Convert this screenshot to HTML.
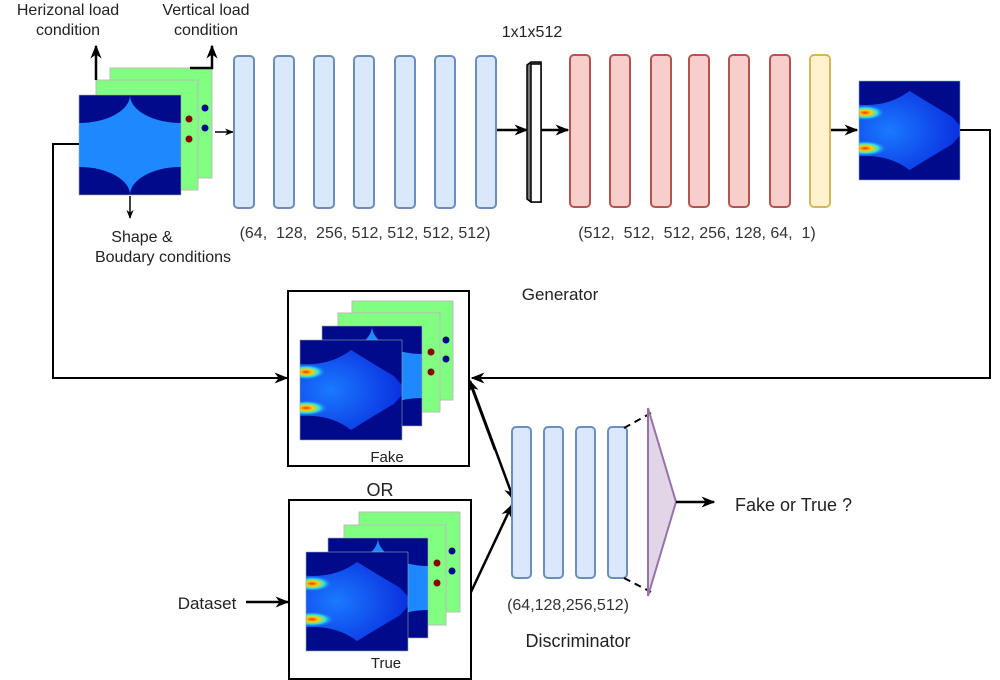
<!DOCTYPE html>
<html><head><meta charset="utf-8"><style>
html,body{margin:0;padding:0;background:#fff;}
svg{display:block;font-family:"Liberation Sans",Arial,sans-serif;}
</style></head><body>
<svg width="1000" height="680" viewBox="0 0 1000 680" xmlns="http://www.w3.org/2000/svg">
<defs>
<marker id="ah" viewBox="0 0 10 10" refX="9" refY="5" markerWidth="9" markerHeight="9" orient="auto-start-reverse" markerUnits="userSpaceOnUse">
<path d="M0,1 L10,5 L0,9 L3,5 z" fill="#000"/></marker>
<marker id="ahs" viewBox="0 0 10 10" refX="9" refY="5" markerWidth="14" markerHeight="14" orient="auto" markerUnits="userSpaceOnUse">
<path d="M0,1 L10,5 L0,9 L3,5 z" fill="#000"/></marker>
<radialGradient id="hot1" cx="0.5" cy="0.5" r="0.5"><stop offset="0" stop-color="#ff3000"/><stop offset="0.3" stop-color="#ffd000"/><stop offset="0.6" stop-color="#30e0e0"/><stop offset="1" stop-color="#1060ff" stop-opacity="0"/></radialGradient>
<radialGradient id="body" cx="0.3" cy="0.5" r="0.7"><stop offset="0" stop-color="#1a7aff"/><stop offset="1" stop-color="#0a30e0"/></radialGradient>
<clipPath id="cp"><rect x="0" y="0" width="100" height="100"/></clipPath>
<g id="heat">
<rect x="0" y="0" width="100" height="100" fill="#000a8a"/>
<g clip-path="url(#cp)">
<path d="M0,24 Q30,26 50,10 Q72,24 92,36 L100,45 L100,55 L92,64 Q72,76 50,90 Q30,74 0,76 z" fill="url(#body)"/>
<ellipse cx="6" cy="32" rx="20" ry="8" fill="url(#hot1)"/>
<ellipse cx="6" cy="68" rx="22" ry="8" fill="url(#hot1)"/>
</g>
<rect x="0" y="0" width="100" height="100" fill="none" stroke="#8aa" stroke-width="0.6"/>
</g>
<g id="shape">
<rect x="0" y="0" width="100" height="100" fill="#1e88ff"/>
<g clip-path="url(#cp)">
<ellipse cx="0" cy="0" rx="50" ry="28" fill="#000a8a"/>
<ellipse cx="100" cy="0" rx="50" ry="28" fill="#000a8a"/>
<ellipse cx="0" cy="100" rx="50" ry="28" fill="#000a8a"/>
<ellipse cx="100" cy="100" rx="50" ry="28" fill="#000a8a"/>
</g>
<rect x="0" y="0" width="100" height="100" fill="none" stroke="#aaa" stroke-width="0.6"/>
</g>
</defs>

<!-- top input stack -->
<rect x="110" y="68" width="102" height="110" fill="#80ff80" stroke="#bbb"/>
<rect x="96" y="80" width="102" height="110" fill="#80ff80" stroke="#bbb"/>
<circle cx="205" cy="108" r="3.5" fill="#000a8a"/><circle cx="205" cy="128" r="3.5" fill="#000a8a"/>
<circle cx="189" cy="119" r="3.5" fill="#8b0000"/><circle cx="189" cy="139" r="3.5" fill="#8b0000"/>
<use href="#shape" transform="translate(79,95) scale(1.02,1)"/>
<path d="M96,80 V46" stroke="#000" stroke-width="2.5" fill="none" marker-end="url(#ahs)"/>
<path d="M190,68 H212 V46" stroke="#000" stroke-width="2.5" fill="none" marker-end="url(#ahs)"/>
<path d="M130,196 V218" stroke="#000" stroke-width="1.5" fill="none" marker-end="url(#ah)"/>
<path d="M215,132 H233" stroke="#000" stroke-width="1.5" fill="none" marker-end="url(#ah)"/>
<text x="68" y="15" font-size="16" text-anchor="middle" fill="#222">Herizonal load</text>
<text x="68" y="35" font-size="16" text-anchor="middle" fill="#222">condition</text>
<text x="206" y="15" font-size="16" text-anchor="middle" fill="#222">Vertical load</text>
<text x="206" y="35" font-size="16" text-anchor="middle" fill="#222">condition</text>
<text x="142" y="242" font-size="16" text-anchor="middle" fill="#222">Shape &amp;</text>
<text x="163" y="262" font-size="16" text-anchor="middle" fill="#222">Boudary conditions</text>

<!-- encoder -->
<g fill="#dae8fc" stroke="#6c8ebf" stroke-width="2">
<rect x="234" y="56" width="20" height="152" rx="4"/>
<rect x="274" y="56" width="20" height="152" rx="4"/>
<rect x="314" y="56" width="20" height="152" rx="4"/>
<rect x="354" y="56" width="20" height="152" rx="4"/>
<rect x="395" y="56" width="20" height="152" rx="4"/>
<rect x="435" y="56" width="20" height="152" rx="4"/>
<rect x="476" y="56" width="20" height="152" rx="4"/>
</g>
<text x="365" y="238" font-size="16" text-anchor="middle" fill="#333" xml:space="preserve">(64,  128,  256, 512, 512, 512, 512)</text>
<path d="M497,130 H527" stroke="#000" stroke-width="2.5" marker-end="url(#ahs)"/>
<!-- bottleneck -->
<path d="M527,65 L531,62 L541,62 L541,202 L531,202 L527,199 z" fill="#777" stroke="#000" stroke-width="1.5"/>
<rect x="531" y="64" width="10" height="138" fill="#fff" stroke="#000" stroke-width="1.5"/>
<text x="532" y="37" font-size="16" text-anchor="middle" fill="#222">1x1x512</text>
<path d="M541,130 H568" stroke="#000" stroke-width="2.5" marker-end="url(#ahs)"/>
<!-- decoder -->
<g fill="#f8cecc" stroke="#b85450" stroke-width="2">
<rect x="570" y="55" width="20" height="152" rx="4"/>
<rect x="610" y="55" width="20" height="152" rx="4"/>
<rect x="651" y="55" width="20" height="152" rx="4"/>
<rect x="689" y="55" width="20" height="152" rx="4"/>
<rect x="729" y="55" width="20" height="152" rx="4"/>
<rect x="770" y="55" width="20" height="152" rx="4"/>
</g>
<rect x="810" y="55" width="20" height="152" rx="4" fill="#fff2cc" stroke="#d6b656" stroke-width="2"/>
<text x="697" y="238" font-size="16" text-anchor="middle" fill="#333" xml:space="preserve">(512,  512,  512, 256, 128, 64,  1)</text>
<path d="M831,130 H857" stroke="#000" stroke-width="2.5" marker-end="url(#ahs)"/>
<use href="#heat" transform="translate(859,81) scale(1.01,0.99)"/>

<!-- feedback lines -->
<path d="M960,130 H990 V378 H472" stroke="#000" stroke-width="2" fill="none" marker-end="url(#ahs)"/>
<path d="M79,144 H53 V378 H287" stroke="#000" stroke-width="2" fill="none" marker-end="url(#ahs)"/>
<text x="560" y="300" font-size="17" text-anchor="middle" fill="#222">Generator</text>

<!-- fake box -->
<rect x="288" y="291" width="181" height="175" fill="#fff" stroke="#000" stroke-width="2"/>
<rect x="352" y="301" width="101" height="99" fill="#80ff80" stroke="#bbb"/>
<rect x="338" y="313" width="102" height="99" fill="#80ff80" stroke="#bbb"/>
<circle cx="446" cy="340" r="3.5" fill="#000a8a"/><circle cx="446" cy="359" r="3.5" fill="#000a8a"/>
<circle cx="431" cy="352" r="3.5" fill="#8b0000"/><circle cx="431" cy="372" r="3.5" fill="#8b0000"/>
<use href="#shape" transform="translate(322,326)"/>
<use href="#heat" transform="translate(300,340) scale(1.02,1)"/>
<text x="387" y="462" font-size="15" text-anchor="middle" fill="#222">Fake</text>
<text x="380" y="496" font-size="18" text-anchor="middle" fill="#222">OR</text>

<!-- true box -->
<rect x="289" y="500" width="182" height="179" fill="#fff" stroke="#000" stroke-width="2"/>
<rect x="359" y="512" width="101" height="100" fill="#80ff80" stroke="#bbb"/>
<rect x="344" y="525" width="102" height="100" fill="#80ff80" stroke="#bbb"/>
<circle cx="452" cy="551" r="3.5" fill="#000a8a"/><circle cx="452" cy="571" r="3.5" fill="#000a8a"/>
<circle cx="437" cy="563" r="3.5" fill="#8b0000"/><circle cx="437" cy="583" r="3.5" fill="#8b0000"/>
<use href="#shape" transform="translate(328,538)"/>
<use href="#heat" transform="translate(306,552) scale(1.02,0.99)"/>
<text x="386" y="668" font-size="15" text-anchor="middle" fill="#222">True</text>
<text x="207" y="609" font-size="17" text-anchor="middle" fill="#222">Dataset</text>
<path d="M246,602 H288" stroke="#000" stroke-width="2.5" marker-end="url(#ahs)"/>

<!-- to discriminator -->
<path d="M470,381 L514,500" stroke="#000" stroke-width="2.5" marker-end="url(#ahs)"/>
<path d="M495,450 L469,380" stroke="#000" stroke-width="2.5" marker-end="url(#ahs)"/>
<path d="M471,592 L512,505" stroke="#000" stroke-width="2.5" marker-end="url(#ahs)"/>

<g fill="#dae8fc" stroke="#6c8ebf" stroke-width="2">
<rect x="512" y="427" width="19" height="151" rx="4"/>
<rect x="544" y="427" width="19" height="151" rx="4"/>
<rect x="576" y="427" width="19" height="151" rx="4"/>
<rect x="608" y="427" width="19" height="151" rx="4"/>
</g>
<path d="M624,428 L651,413 M624,578 L651,592" stroke="#000" stroke-width="2" stroke-dasharray="7,5"/>
<path d="M648,408 L676,502 L648,596 z" fill="#e1d5e7" stroke="#9673a6" stroke-width="2"/>
<path d="M676,502 H714" stroke="#000" stroke-width="2.5" marker-end="url(#ahs)"/>
<text x="735" y="511" font-size="18" fill="#222">Fake or True ?</text>
<text x="568" y="610" font-size="16" text-anchor="middle" fill="#333">(64,128,256,512)</text>
<text x="578" y="647" font-size="18" text-anchor="middle" fill="#222">Discriminator</text>
</svg>
</body></html>
